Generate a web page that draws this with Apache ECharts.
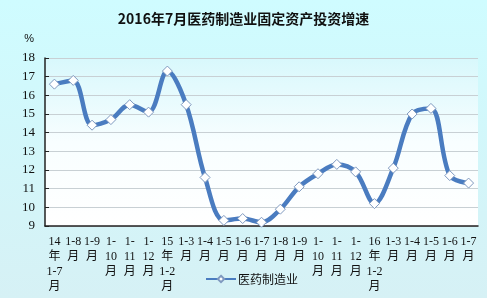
<!DOCTYPE html>
<html><head><meta charset="utf-8">
<script src="https://cdn.jsdelivr.net/npm/echarts@6/dist/echarts.min.js"></script>
<style>html,body{margin:0;padding:0;}#c{width:487px;height:298px;}</style>
</head><body><div id="c"></div>
<script>
var titleText = '2016年7月医药制造业固定资产投资增速';
var seriesName = '医药制造业';
var categories = ['14\n年\n1-7\n月','1-8\n月','1-9\n月','1-\n10\n月','1-\n11\n月','1-\n12\n月','15\n年\n1-2\n月','1-3\n月','1-4\n月','1-5\n月','1-6\n月','1-7\n月','1-8\n月','1-9\n月','1-\n10\n月','1-\n11\n月','1-\n12\n月','16\n年\n1-2\n月','1-3\n月','1-4\n月','1-5\n月','1-6\n月','1-7\n月'];
var values = [16.6,16.8,14.4,14.7,15.5,15.1,17.3,15.5,11.6,9.3,9.4,9.2,9.9,11.1,11.8,12.3,11.9,10.2,12.1,15.0,15.3,11.7,11.3];
var yMin = 9, yMax = 18, yStep = 1;

var chart = echarts.init(document.getElementById('c'));
chart.setOption({
  animation:false,
  backgroundColor:{type:'linear',x:0,y:0,x2:0,y2:1,colorStops:[{offset:0,color:'#cffcff'},{offset:1,color:'#d6f1f5'}]},
  title:{text:titleText,left:'center',top:7,textStyle:{fontSize:14,fontWeight:'bold',color:'#111',fontFamily:'Noto Sans CJK SC'}},
  legend:{bottom:8,left:200,itemWidth:30,itemHeight:8,data:[seriesName],
    textStyle:{fontSize:12,color:'#111',fontFamily:'Noto Sans CJK SC',padding:[0,0,0,-3]}},
  grid:{left:45,right:9,top:58,bottom:72,show:true,borderWidth:0,
    backgroundColor:{type:'linear',x:0,y:0,x2:0,y2:1,colorStops:[{offset:0,color:'#d8f8fc'},{offset:0.5,color:'#f8feff'},{offset:1,color:'#ffffff'}]}},
  xAxis:{type:'category',data:categories,boundaryGap:true,
    axisLine:{lineStyle:{color:'#222',width:1.5}},
    axisTick:{inside:true,length:4,lineStyle:{color:'#222'}},
    axisLabel:{interval:0,fontSize:12,lineHeight:15,color:'#111',margin:8,fontFamily:'Liberation Serif, Noto Sans CJK SC'}},
  yAxis:{type:'value',min:yMin,max:yMax,interval:yStep,name:'%',nameLocation:'end',nameGap:14,
    nameTextStyle:{fontSize:11,color:'#111',align:'right',padding:[0,11,0,0]},
    axisLine:{show:true,lineStyle:{color:'#222',width:1.5}},
    axisTick:{show:true,inside:true,length:4,lineStyle:{color:'#222'}},
    splitLine:{lineStyle:{color:'#c8d0d4',width:1}},
    axisLabel:{fontSize:13,color:'#111',margin:10,fontFamily:'Liberation Serif'}},
  series:[{name:seriesName,type:'line',data:values,smooth:0.35,
    lineStyle:{color:'#4a7cc0',width:4.5},
    itemStyle:{color:'#ffffff',borderColor:'#7f99bf',borderWidth:1},
    symbol:'diamond',symbolSize:10,showSymbol:true}]
});
</script></body></html>
